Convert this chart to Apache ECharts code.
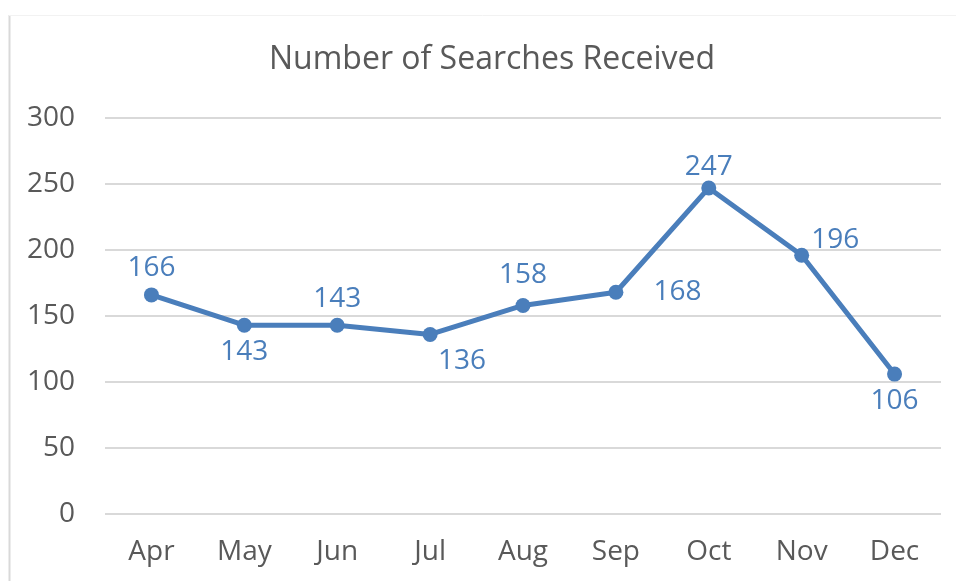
<!DOCTYPE html>
<html>
<head>
<meta charset="utf-8">
<script src="https://cdn.jsdelivr.net/npm/echarts@6/dist/echarts.min.js"></script>
<style>
  html, body { margin: 0; padding: 0; background: #fff; }
  #main { width: 956px; height: 581px; }
</style>
</head>
<body>
<div id="main"></div>
<script>
var months = ['Apr', 'May', 'Jun', 'Jul', 'Aug', 'Sep', 'Oct', 'Nov', 'Dec'];
var searches = [166, 143, 143, 136, 158, 168, 247, 196, 106];
// where each value label sits, as in the original
var labelPos = ['top', 'bottom', 'top', 'bottom', 'top', 'right', 'top', 'right', 'bottom'];

var blue = '#4a7ebb';
var grey = '#595959';
var font = 'Open Sans';

var chart = echarts.init(document.getElementById('main'));

// small nudges so labels land where Excel put them
var nudge = {
  3: { offset: [32, 0] },
  4: { offset: [0, -4] },
  5: { distance: 30 },
  6: { offset: [0, 6] },
  7: { distance: 2, offset: [0, -15] }
};

var points = searches.map(function (v, i) {
  var lab = Object.assign({ position: labelPos[i] }, nudge[i] || {});
  return { value: v, label: lab };
});

var option = {
  animation: false,
  backgroundColor: '#fff',
  title: {
    text: 'Number of Searches Received',
    left: 264,
    top: 39,
    textStyle: { color: grey, fontFamily: font, fontSize: 32, fontWeight: 'normal' }
  },
  graphic: [
    { type: 'line', shape: { x1: 9.5, y1: 15, x2: 9.5, y2: 581 }, style: { stroke: '#d9d9d9', lineWidth: 2 } },
    { type: 'line', shape: { x1: 9, y1: 15.5, x2: 956, y2: 15.5 }, style: { stroke: '#f2f2f2', lineWidth: 1 } }
  ],
  grid: { left: 105, right: 15, top: 118, bottom: 67 },
  xAxis: {
    type: 'category',
    data: months,
    boundaryGap: true,
    axisLine: { show: false },
    axisTick: { show: false },
    axisLabel: { color: grey, fontFamily: font, fontSize: 28, margin: 24 }
  },
  yAxis: {
    type: 'value',
    min: 0,
    max: 300,
    interval: 50,
    axisLine: { show: false },
    axisTick: { show: false },
    axisLabel: { color: grey, fontFamily: font, fontSize: 28, margin: 30 },
    splitLine: { lineStyle: { color: '#d9d9d9', width: 2 } }
  },
  series: [{
    type: 'line',
    data: points,
    symbol: 'circle',
    symbolSize: 15,
    itemStyle: { color: blue },
    lineStyle: { color: blue, width: 5 },
    label: {
      show: true,
      color: blue,
      fontFamily: font,
      fontSize: 28
    }
  }]
};

chart.setOption(option);
</script>
</body>
</html>
